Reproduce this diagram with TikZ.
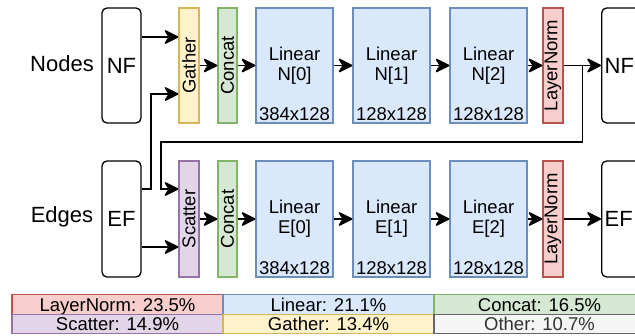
\documentclass[tikz,border=0pt]{standalone}
\usepackage{fontspec}
\setmainfont{Liberation Sans}
\usepackage{graphicx}
\usetikzlibrary{arrows.meta,calc}
\definecolor{yfill}{HTML}{FFF2CC}\definecolor{ydraw}{HTML}{D6B656}
\definecolor{gfill}{HTML}{D5E8D4}\definecolor{gdraw}{HTML}{82B366}
\definecolor{bfill}{HTML}{DAE8FC}\definecolor{bdraw}{HTML}{6C8EBF}
\definecolor{rfill}{HTML}{F8CECC}\definecolor{rdraw}{HTML}{B85450}
\definecolor{pfill}{HTML}{E1D5E7}\definecolor{pdraw}{HTML}{9673A6}
\definecolor{ofill}{HTML}{F5F5F5}\definecolor{odraw}{HTML}{666666}
\definecolor{otext}{HTML}{333333}
\newcommand\fmid{\fontsize{18.5}{20}\selectfont}
\newcommand\fbig{\fontsize{22}{24}\selectfont}
\tikzset{arr/.style={line width=1.6pt, arrows={-Stealth[length=16pt, width=16pt, inset=5pt, round]}}}
\begin{document}
\begin{tikzpicture}[x=1pt,y=-1pt,
  box/.style={draw, line width=1.2pt, inner sep=0pt, font=\fmid, align=center},
  rowN/.style={minimum height=115pt},
  rowE/.style={minimum height=116pt},
  thin/.style={box, minimum width=20pt},
  gat/.style={thin, fill=yfill, draw=ydraw},
  sca/.style={thin, fill=pfill, draw=pdraw},
  cat/.style={thin, fill=gfill, draw=gdraw, minimum width=19pt},
  lnorm/.style={thin, fill=rfill, draw=rdraw},
  lin/.style={box, fill=bfill, draw=bdraw, minimum width=77pt},
  sz/.style={label={[anchor=south, inner sep=0pt, yshift=3pt, font=\fmid]south:#1}},
  feat/.style={draw, line width=1.3pt, rounded corners=5pt, inner sep=0pt, minimum width=39pt, font=\fbig},
  featR/.style={feat, anchor=west, text width=40pt, align=left, inner xsep=3pt},
  lbl/.style={font=\fbig, inner sep=0pt},
  leg/.style={draw, line width=1.2pt, minimum width=211pt, minimum height=19.5pt, inner sep=0pt, font=\fmid, text height=14pt, text depth=0pt},
]
\useasboundingbox (0,0) rectangle (635,336);
\clip (0,0) rectangle (635,336);

% Nodes row
\node[lbl] (nodesLbl) at (62,64) {Nodes};
\node[feat, rowN] (nfL) at (121.5,65.5) {NF};
\node[gat, rowN] (gather) at (189,65.5) {\rotatebox{90}{Gather}};
\node[cat, rowN] (catN) at (227.5,65.5) {\rotatebox{90}{Concat}};
\node[lin, rowN, sz=384x128] (n0) at (294.5,65.5) {Linear\\N[0]};
\node[lin, rowN, sz=128x128] (n1) at (391.5,65.5) {Linear\\N[1]};
\node[lin, rowN, sz=128x128] (n2) at (488.5,65.5) {Linear\\N[2]};
\node[lnorm, rowN] (lnN) at (553,65.5) {\rotatebox{90}{LayerNorm}};
\node[featR, rowN] (nfR) at (601,65.5) {NF};

% Edges row
\node[lbl] (edgesLbl) at (62,217) {Edges};
\node[feat, rowE] (efL) at (121.5,219) {EF};
\node[sca, rowE] (scatter) at (189,219) {\rotatebox{90}{Scatter}};
\node[cat, rowE] (catE) at (227.5,219) {\rotatebox{90}{Concat}};
\node[lin, rowE, sz=384x128] (e0) at (294.5,219) {Linear\\E[0]};
\node[lin, rowE, sz=128x128] (e1) at (391.5,219) {Linear\\E[1]};
\node[lin, rowE, sz=128x128] (e2) at (488.5,219) {Linear\\E[2]};
\node[lnorm, rowE] (lnE) at (553,219) {\rotatebox{90}{LayerNorm}};
\node[featR, rowE] (efR) at (601,219) {EF};

% connectors, node row
\draw[arr] ([yshift=28.5pt]nfL.east) -- ([yshift=28.5pt]gather.west);
\draw[arr] (gather) -- (catN);
\draw[arr] (catN) -- (n0);
\draw[arr] (n0) -- (n1);
\draw[arr] (n1) -- (n2);
\draw[arr] (n2) -- (lnN);
\draw[arr] (lnN) -- (nfR.west);
% connectors, edge row
\draw[arr] (scatter) -- (catE);
\draw[arr] (catE) -- (e0);
\draw[arr] (e0) -- (e1);
\draw[arr] (e1) -- (e2);
\draw[arr] (e2) -- (lnE);
\draw[arr] (lnE) -- (efR.west);
\draw[arr] ([yshift=-28pt]efL.east) -- ([yshift=-28pt]scatter.west);
% cross connectors
\draw[arr] ([yshift=30pt]efL.east) -- ++(9.5,0) |- ([yshift=-28.5pt]gather.west);
\coordinate (br) at ($(lnN.east)!0.5!(nfR.west)$);
\coordinate (turn) at (161,142);
\draw[arr] (br) |- (turn) |- ([yshift=30pt]scatter.west);

% legend
\node[leg, fill=rfill, draw=rdraw] (lgLN) at (117.5,304.5) {LayerNorm: 23.5\%};
\node[leg, fill=bfill, draw=bdraw] (lgLin) at (328.5,304.5) {Linear: 21.1\%};
\node[leg, fill=gfill, draw=gdraw] (lgCat) at (539.5,304.5) {Concat: 16.5\%};
\node[leg, fill=pfill, draw=pdraw] (lgSca) at (117.5,324) {Scatter: 14.9\%};
\node[leg, fill=yfill, draw=ydraw] (lgGat) at (328.5,324) {Gather: 13.4\%};
\node[leg, fill=ofill, draw=odraw, text=otext] (lgOth) at (539.5,324) {Other: 10.7\%};
\end{tikzpicture}
\end{document}
